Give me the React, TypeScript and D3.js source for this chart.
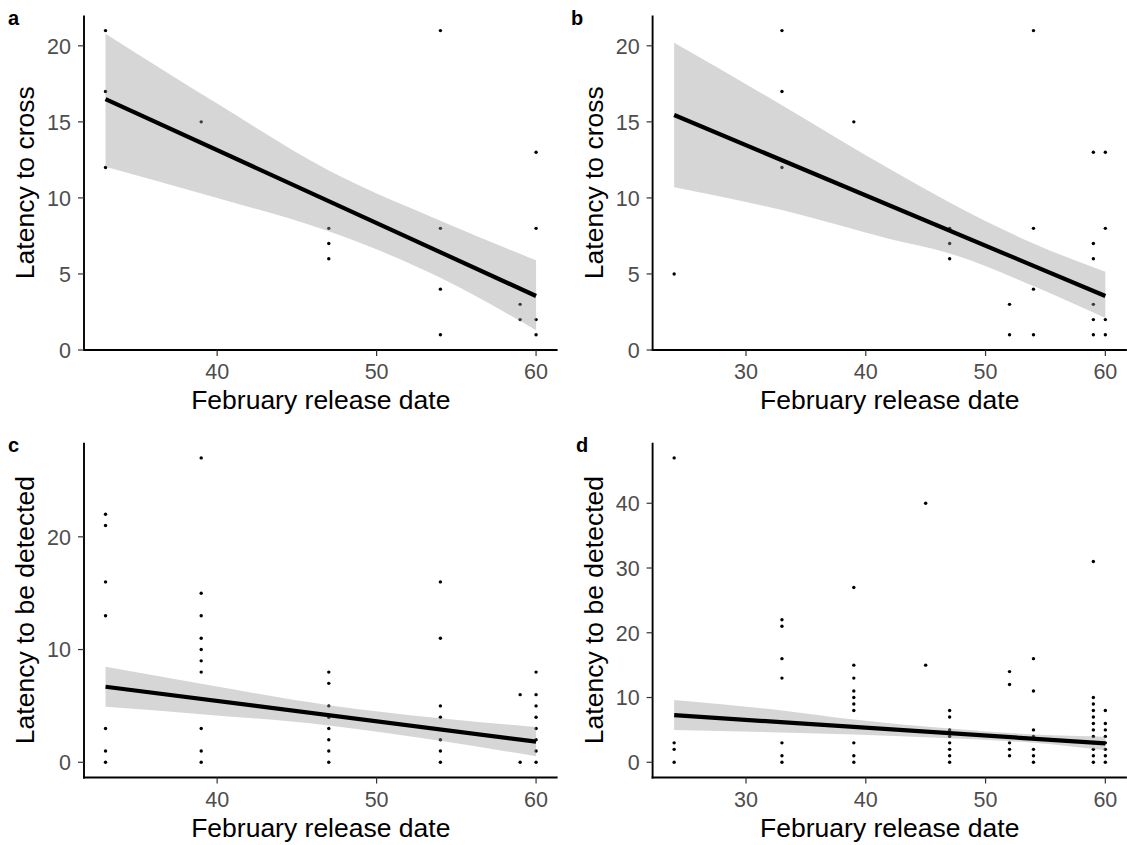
import React, { useEffect } from "react";
import * as d3 from "d3";

// release date ticks
const dateTicksAC = [40, 50, 60];
const dateTicksBD = [30, 40, 50, 60];
const crossTicks = [0, 5, 10, 15, 20];
const detectTicksC = [0, 10, 20];
const detectTicksD = [0, 10, 20, 30, 40];

// points: [release date, latencies at that date]
const crossA: [number, number[]][] = [
  [33, [21, 17, 12]],
  [39, [15]],
  [47, [8, 7, 6]],
  [54, [21, 8, 4, 1]],
  [59, [3, 2]],
  [60, [13, 8, 2, 1]],
];
const crossB: [number, number[]][] = [
  [24, [5]],
  [33, [21, 17, 12]],
  [39, [15]],
  [47, [8, 7, 6]],
  [52, [3, 1]],
  [54, [21, 8, 4, 1]],
  [59, [13, 7, 6, 3, 2, 1]],
  [60, [13, 8, 2, 1]],
];
const detectC: [number, number[]][] = [
  [33, [22, 21, 16, 13, 3, 1, 0]],
  [39, [27, 15, 13, 11, 10, 9, 8, 3, 1, 0]],
  [47, [8, 7, 5, 4, 3, 2, 1, 0]],
  [54, [16, 11, 5, 4, 2, 1, 0]],
  [59, [6, 0]],
  [60, [8, 6, 5, 4, 3, 2, 1, 0]],
];
const detectD: [number, number[]][] = [
  [24, [47, 3, 2, 0]],
  [33, [22, 21, 16, 13, 3, 1, 0]],
  [39, [27, 15, 13, 11, 10, 9, 8, 3, 1, 0]],
  [45, [40, 15]],
  [47, [8, 7, 5, 4, 3, 2, 1, 0]],
  [52, [14, 12, 3, 2, 1]],
  [54, [16, 11, 5, 4, 2, 1, 0]],
  [59, [31, 10, 9, 8, 7, 6, 5, 4, 3, 2, 1, 0]],
  [60, [8, 6, 5, 4, 3, 2, 1, 0]],
];

// fitted lines (ends) and confidence band
const fitXA = [33, 60];
const fitYA = [16.5, 3.55];
const bandXA = [33, 40, 47, 54, 60];
const bandLoA = [12.05, 10.0, 7.8, 4.75, 1.3];
const bandHiA = [20.8, 16.2, 11.8, 8.5, 5.9];

const fitXB = [24, 60];
const fitYB = [15.45, 3.55];
const bandXB = [24, 33, 42, 47, 54, 60];
const bandLoB = [10.7, 9.2, 7.3, 6.35, 4.2, 2.1];
const bandHiB = [20.2, 16.1, 11.9, 9.7, 7.0, 5.15];

const fitXC = [33, 60];
const fitYC = [6.7, 1.83];
const bandXC = [33, 39, 47, 54, 60];
const bandLoC = [4.92, 4.27, 3.27, 1.91, 0.53];
const bandHiC = [8.48, 6.97, 5.07, 3.91, 3.13];

const fitXD = [24, 60];
const fitYD = [7.28, 2.92];
const bandXD = [24, 33, 39, 47, 54, 60];
const bandLoD = [4.97, 4.6, 4.3, 3.7, 3.0, 1.85];
const bandHiD = [9.6, 8.0, 6.6, 5.2, 4.3, 3.95];

const W = 1127;
const H = 845;
const FONT = "'Liberation Sans', Arial, sans-serif";

const panels = [
  { tag: "a", tagX: 8, tagY: 25, cols: crossA, xTicks: dateTicksAC, yTicks: crossTicks, yTitle: "Latency to cross",
    fitX: fitXA, fitY: fitYA, bandX: bandXA, bandLo: bandLoA, bandHi: bandHiA, left: 84, right: 557.6, top: 15.4, bottom: 350 },
  { tag: "b", tagX: 571, tagY: 25, cols: crossB, xTicks: dateTicksBD, yTicks: crossTicks, yTitle: "Latency to cross",
    fitX: fitXB, fitY: fitYB, bandX: bandXB, bandLo: bandLoB, bandHi: bandHiB, left: 652.6, right: 1126.9, top: 15.4, bottom: 350 },
  { tag: "c", tagX: 8, tagY: 452, cols: detectC, xTicks: dateTicksAC, yTicks: detectTicksC, yTitle: "Latency to be detected",
    fitX: fitXC, fitY: fitYC, bandX: bandXC, bandLo: bandLoC, bandHi: bandHiC, left: 84, right: 557.6, top: 442.7, bottom: 777.5 },
  { tag: "d", tagX: 576, tagY: 452, cols: detectD, xTicks: dateTicksBD, yTicks: detectTicksD, yTitle: "Latency to be detected",
    fitX: fitXD, fitY: fitYD, bandX: bandXD, bandLo: bandLoD, bandHi: bandHiD, left: 652.6, right: 1126.9, top: 442.7, bottom: 777.5 },
];

// ggplot style 5% expansion
const expand = (ext: [number, number]) => {
  const pad = (ext[1] - ext[0]) * 0.05;
  return [ext[0] - pad, ext[1] + pad];
};

const Panel = ({ p }: { p: (typeof panels)[number] }) => {
  const pts = p.cols.flatMap(([x, ys]) => ys.map((y) => ({ x, y })));
  const x = d3
    .scaleLinear()
    .domain(expand(d3.extent(pts, (d) => d.x) as [number, number]))
    .range([p.left, p.right]);
  const y = d3
    .scaleLinear()
    .domain(expand(d3.extent(pts, (d) => d.y) as [number, number]))
    .range([p.bottom, p.top]);

  const band = d3
    .area<number>()
    .x((d) => x(d))
    .y0((d, i) => y(p.bandLo[i]))
    .y1((d, i) => y(p.bandHi[i]))
    .curve(d3.curveMonotoneX);
  const fit = d3
    .line<number>()
    .x((d) => x(d))
    .y((d, i) => y(p.fitY[i]));

  const midY = (p.top + p.bottom) / 2;
  const midX = (p.left + p.right) / 2;

  return (
    <g>
      {pts.map((d, i) => (
        <circle key={i} cx={x(d.x)} cy={y(d.y)} r={1.7} fill="#000" />
      ))}
      <path d={band(p.bandX) || ""} fill="#999999" fillOpacity={0.4} />
      <path d={fit(p.fitX) || ""} stroke="#000" strokeWidth={4.2} fill="none" />

      {/* axes */}
      <line x1={p.left} x2={p.left} y1={p.top} y2={p.bottom + 1} stroke="#000" strokeWidth={1.9} />
      <line x1={p.left - 1} x2={p.right} y1={p.bottom} y2={p.bottom} stroke="#000" strokeWidth={1.9} />
      {p.yTicks.map((t) => (
        <g key={"y" + t}>
          <line x1={p.left - 6} x2={p.left} y1={y(t)} y2={y(t)} stroke="#333" strokeWidth={1.2} />
          <text x={p.left - 13} y={y(t)} dy="0.36em" textAnchor="end" fontSize={21.5} fill="#4D4D4D" fontFamily={FONT}>
            {t}
          </text>
        </g>
      ))}
      {p.xTicks.map((t) => (
        <g key={"x" + t}>
          <line x1={x(t)} x2={x(t)} y1={p.bottom} y2={p.bottom + 6} stroke="#333" strokeWidth={1.2} />
          <text x={x(t)} y={p.bottom + 29} textAnchor="middle" fontSize={21.5} fill="#4D4D4D" fontFamily={FONT}>
            {t}
          </text>
        </g>
      ))}
      <text x={midX} y={p.bottom + 59} textAnchor="middle" fontSize={26.5} fill="#000" fontFamily={FONT}>
        February release date
      </text>
      <text
        transform={`translate(${p.left - 50},${midY}) rotate(-90)`}
        textAnchor="middle"
        fontSize={26.5}
        fill="#000"
        fontFamily={FONT}
      >
        {p.yTitle}
      </text>
      <text x={p.tagX} y={p.tagY} fontSize={20} fontWeight="bold" fill="#000" fontFamily={FONT}>
        {p.tag}
      </text>
    </g>
  );
};

const App = () => {
  useEffect(() => {
    document.body.style.margin = "0";
  }, []);
  return (
    <svg width={W} height={H} style={{ display: "block", background: "#fff" }}>
      {panels.map((p) => (
        <Panel key={p.tag} p={p} />
      ))}
    </svg>
  );
};

export default App;
